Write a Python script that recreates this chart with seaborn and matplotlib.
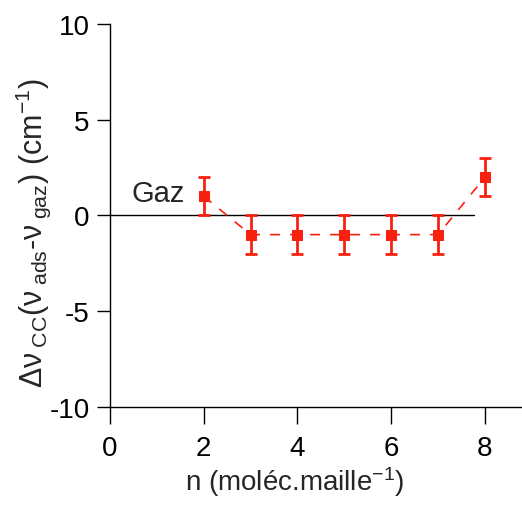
import numpy as np
import pandas as pd
import matplotlib
matplotlib.use('Agg')
import matplotlib.pyplot as plt
import seaborn as sns

# Data
n_values = [2, 3, 4, 5, 6, 7, 8]
delta_nu = [1, -1, -1, -1, -1, -1, 2]
delta_err = [1, 1, 1, 1, 1, 1, 1]

data = pd.DataFrame({'n': n_values, 'dnu': delta_nu, 'err': delta_err})

sns.set_style('ticks')
plt.rcParams['font.family'] = ['Liberation Sans', 'DejaVu Sans']
plt.rcParams['mathtext.fontset'] = 'custom'
plt.rcParams['mathtext.rm'] = 'Liberation Sans'
plt.rcParams['mathtext.it'] = 'Liberation Sans'
plt.rcParams['mathtext.default'] = 'regular'
plt.rcParams['axes.unicode_minus'] = False

red = '#f8200e'

fig = plt.figure(figsize=(5.22, 5.06), dpi=100)
ax = fig.add_axes([0.2107, 0.1937, 0.7893, 0.757])

# gas reference line at 0
ax.plot([0, 7.76], [0, 0], color='black', lw=1.0, zorder=1)

sns.lineplot(data=data, x='n', y='dnu', ax=ax, color=red, lw=1.2,
             linestyle=(0, (6, 6)), marker='s', markersize=7.5,
             markeredgecolor=red, zorder=3)
ax.errorbar(data['n'], data['dnu'], yerr=data['err'], fmt='none',
            ecolor=red, elinewidth=2, capsize=4, capthick=2, zorder=2)

ax.text(1.6, 0.78, 'Gaz', ha='right', va='baseline', fontsize=21)

ax.set_xlim(0, 8.79)
ax.set_ylim(-10, 10)
ax.set_xticks([0, 2, 4, 6, 8])
ax.set_yticks([-10, -5, 0, 5, 10])
sns.despine(ax=ax)
for side in ['left', 'bottom']:
    ax.spines[side].set_linewidth(1.0)
    ax.spines[side].set_color('black')
ax.tick_params(direction='out', width=1.0, labelsize=20, colors='black')
ax.tick_params(axis='x', length=12, pad=8)
ax.tick_params(axis='y', length=9.5, pad=5)

ax.set_xlabel('n (moléc.maille$^{-1}$)', fontsize=20)
ax.set_ylabel(r'$\Delta\nu_{\;CC}(\nu_{\;ads}$-$\nu_{\;gaz}$) (cm$^{-1}$)',
              fontsize=22)
ax.xaxis.set_label_coords(0.449, -0.149)
ax.yaxis.set_label_coords(-0.138, 0.457)

fig.savefig('out.png', dpi=100)
